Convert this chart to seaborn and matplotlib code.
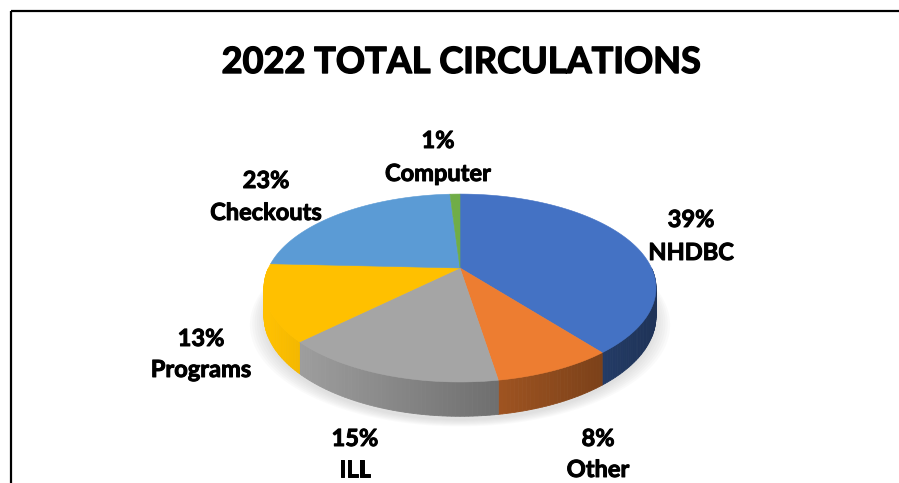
import numpy as np
import matplotlib
matplotlib.use("Agg")
import matplotlib.pyplot as plt
from matplotlib.patches import Polygon
import matplotlib.patheffects as pe
import seaborn as sns

# ---------------- data ----------------
categories = ["NHDBC", "Other", "ILL", "Programs", "Checkouts", "Computer"]
values = [39, 8, 15, 13, 23, 1]
pct_labels = ["39%", "8%", "15%", "13%", "23%", "1%"]
slice_colors = ["#4472C4", "#ED7D31", "#A5A5A5", "#FFC000", "#5B9BD5", "#70AD47"]
title_text = "2022 TOTAL CIRCULATIONS"

# ---------------- layout (pixel space) ----------------
W, H = 899, 483
CX, CY = 460.0, 268.0        # pie apex
RX, RY = 191.5, 89.7         # projected radii
PERSP = 0.213                # perspective strength
DEPTH = 27.0                 # thickness of pie
# label centre x and the two baselines (percent line, name line)
label_pos = [(691, 227, 260), (598, 446, 477), (355, 446, 477),
             (201, 346, 377), (266, 188, 220), (438, 148, 181)]

sns.set_theme(style="white")
plt.rcParams["font.family"] = ["Lato", "DejaVu Sans"]
palette = sns.color_palette(slice_colors)

fig = plt.figure(figsize=(W / 100, H / 100), dpi=100)
ax = fig.add_axes([0, 0, 1, 1])
ax.set_xlim(0, W)
ax.set_ylim(H, 0)
ax.axis("off")


def proj(phi, drop=0.0):
    u = np.sin(phi)
    v = -np.cos(phi)
    s = 1.0 / (1.0 - PERSP * v)
    return CX + RX * u * s, CY + RY * v * s + drop * s


# soft shadow below the pie
full = np.linspace(0, 2 * np.pi, 361)
for k in range(7):
    sx, sy = proj(full, DEPTH + 2 + k * 0.8)
    sx = CX + (sx - CX) * (1.0 + 0.012 * k)
    sy = sy + 1.5
    ax.add_patch(Polygon(np.column_stack([sx, sy]), closed=True,
                         facecolor="#808080", edgecolor="none", alpha=0.035, zorder=1))

fr = np.array(values, dtype=float) / np.sum(values)
bounds = np.concatenate([[0], np.cumsum(fr)]) * 2 * np.pi

# side walls (front half only), shaded left -> right
for i in range(len(values)):
    a0, a1 = bounds[i], bounds[i + 1]
    lo, hi = max(a0, np.pi / 2), min(a1, 3 * np.pi / 2)
    if hi <= lo:
        continue
    n = max(2, int(np.degrees(hi - lo)) + 1)
    ph = np.linspace(lo, hi, n)
    base = np.array(palette[i])
    for j in range(n - 1):
        xt0, yt0 = proj(ph[j])
        xt1, yt1 = proj(ph[j + 1])
        xb0, yb0 = proj(ph[j], DEPTH)
        xb1, yb1 = proj(ph[j + 1], DEPTH)
        t = ((xt0 + xt1) / 2 - (CX - RX)) / (2 * RX)
        f = 1.0 - 0.55 * np.clip(t, 0, 1)
        c = np.clip(base * f, 0, 1)
        ax.add_patch(Polygon([[xt0, yt0], [xt1, yt1], [xb1, yb1], [xb0, yb0]],
                             closed=True, facecolor=c, edgecolor=c, lw=0.6, zorder=2))

# top faces
for i in range(len(values)):
    ph = np.linspace(bounds[i], bounds[i + 1], 200)
    x, y = proj(ph)
    pts = np.vstack([[CX, CY], np.column_stack([x, y])])
    ax.add_patch(Polygon(pts, closed=True, facecolor=palette[i],
                         edgecolor=palette[i], lw=0.4, zorder=3))

bold_fx = [pe.withStroke(linewidth=0.7, foreground="black")]

# labels
for i in range(len(values)):
    lx, b1, b2 = label_pos[i]
    ax.text(lx, b1, pct_labels[i], ha="center", va="baseline",
            fontsize=17, fontweight="bold", color="black", zorder=5,
            path_effects=bold_fx)
    ax.text(lx, b2, categories[i], ha="center", va="baseline",
            fontsize=17, fontweight="bold", color="black", zorder=5,
            path_effects=bold_fx)

# title
ax.text(461, 73, title_text, ha="center", va="baseline",
        fontsize=26, fontweight="bold", color="black", zorder=5,
        path_effects=[pe.withStroke(linewidth=1.0, foreground="black")])

# chart frame (only left and top edges are visible in the crop)
ax.plot([10.5, 10.5], [H, 10.5], color="black", lw=1.6, solid_capstyle="butt", zorder=6)
ax.plot([10.5, W], [10.5, 10.5], color="black", lw=1.6, solid_capstyle="butt", zorder=6)

fig.savefig("out.png", dpi=100)
